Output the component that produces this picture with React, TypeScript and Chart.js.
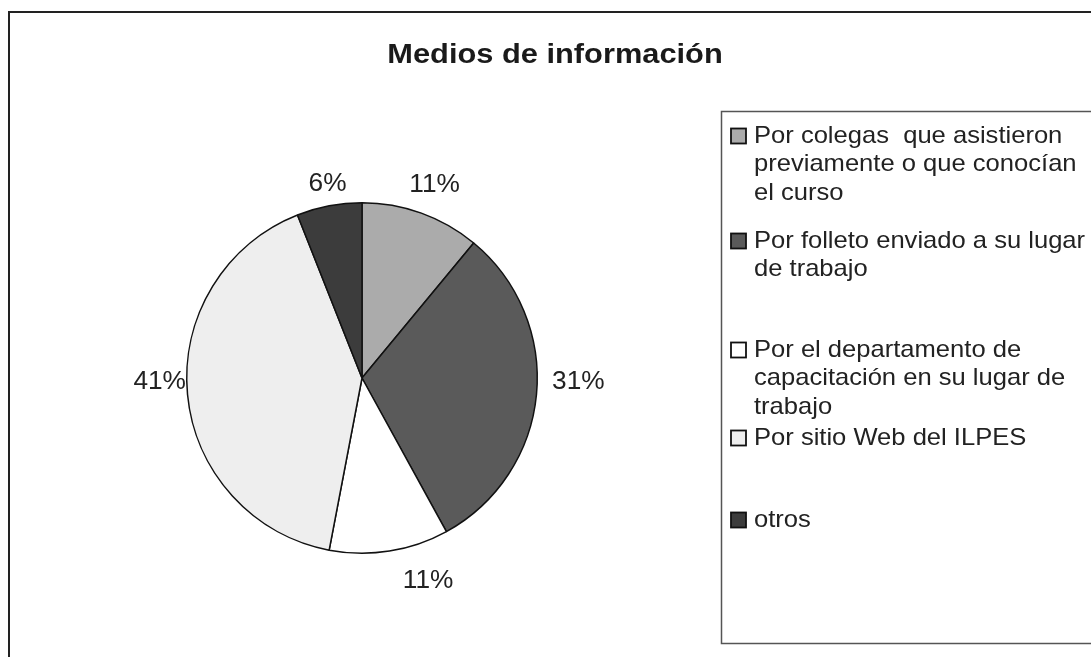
import React, { useEffect, useRef } from "react";
import { Chart, registerables } from "chart.js";

Chart.register(...registerables);

const chartTitle = "Medios de información";
const categories: string[][] = [
  ["Por colegas  que asistieron", "previamente o que conocían", "el curso"],
  ["Por folleto enviado a su lugar", "de trabajo"],
  ["Por el departamento de", "capacitación en su lugar de", "trabajo"],
  ["Por sitio Web del ILPES"],
  ["otros"],
];
const shares: number[] = [11, 31, 11, 41, 6];
const sliceColors: string[] = ["#ababab", "#5a5a5a", "#ffffff", "#eeeeee", "#3c3c3c"];

// layout / style settings (not data)
const W = 1091;
const H = 657;
const labelGap = 30;
const labelNudges: [number, number][] = [
  [3, 0],
  [12, -15],
  [34, 0],
  [2, -15],
  [4, 8],
];
const legendFirstLineY: number[] = [136, 241, 350, 438, 520];
const legendLineHeight = 28.5;

function drawText(
  ctx: CanvasRenderingContext2D,
  text: string,
  x: number,
  y: number,
  font: string,
  sx: number,
  align: CanvasTextAlign,
  color: string
) {
  ctx.save();
  ctx.font = font;
  ctx.fillStyle = color;
  ctx.textAlign = align;
  ctx.textBaseline = "middle";
  ctx.translate(x, y);
  ctx.scale(sx, 1);
  ctx.fillText(text, 0, 0);
  ctx.restore();
}

const decorPlugin = {
  id: "decor",
  beforeDraw(chart: any) {
    const ctx: CanvasRenderingContext2D = chart.ctx;
    ctx.save();
    ctx.fillStyle = "#ffffff";
    ctx.fillRect(0, 0, chart.width, chart.height);
    // outer frame
    ctx.strokeStyle = "#222222";
    ctx.lineWidth = 2;
    ctx.strokeRect(9, 12, 1200, 800);
    // legend frame
    ctx.strokeStyle = "#555555";
    ctx.lineWidth = 1.5;
    ctx.strokeRect(721.5, 111.5, 420, 532);
    ctx.restore();
    // title
    drawText(ctx, chartTitle, 555, 55, "bold 28px 'Liberation Sans', Arial, sans-serif", 1.1, "center", "#1a1a1a");
  },
  afterDatasetsDraw(chart: any) {
    const ctx: CanvasRenderingContext2D = chart.ctx;
    const meta = chart.getDatasetMeta(0);
    const data: number[] = chart.data.datasets[0].data;
    const total = data.reduce((a, b) => a + b, 0);
    meta.data.forEach((arc: any, i: number) => {
      const p = arc.getProps(["x", "y", "startAngle", "endAngle", "outerRadius"], true);
      const mid = (p.startAngle + p.endAngle) / 2;
      const d = p.outerRadius + labelGap;
      const x = p.x + Math.cos(mid) * d + labelNudges[i][0];
      const y = p.y + Math.sin(mid) * d + labelNudges[i][1];
      const pct = Math.round((data[i] / total) * 100) + "%";
      drawText(ctx, pct, x, y, "25px 'Liberation Sans', Arial, sans-serif", 1.05, "center", "#222222");
    });
    // legend
    categories.forEach((lines, i) => {
      const y0 = legendFirstLineY[i];
      ctx.save();
      ctx.fillStyle = sliceColors[i];
      ctx.fillRect(731, y0 - 7.5, 15, 15);
      ctx.strokeStyle = "#111111";
      ctx.lineWidth = 1.8;
      ctx.strokeRect(731, y0 - 7.5, 15, 15);
      ctx.restore();
      lines.forEach((ln, j) => {
        drawText(ctx, ln, 754, y0 + j * legendLineHeight, "24px 'Liberation Sans', Arial, sans-serif", 1.065, "left", "#222222");
      });
    });
  },
};

export default function App() {
  const ref = useRef<HTMLCanvasElement | null>(null);
  useEffect(() => {
    document.body.style.overflow = "hidden";
    const canvas = ref.current;
    if (!canvas) return;
    const chart = new Chart(canvas, {
      type: "pie",
      data: {
        labels: categories.map((l) => l.join(" ")),
        datasets: [
          {
            data: shares,
            backgroundColor: sliceColors,
            borderColor: "#111111",
            borderWidth: 1.5,
          },
        ],
      },
      options: {
        responsive: false,
        maintainAspectRatio: false,
        animation: false,
        layout: { padding: { left: 186, right: W - 538, top: 202, bottom: H - 554 } },
        plugins: {
          legend: { display: false },
          title: { display: false },
          tooltip: { enabled: false },
        },
      },
      plugins: [decorPlugin],
    });
    return () => chart.destroy();
  }, []);
  return (
    <div style={{ position: "absolute", left: 0, top: 0, width: W, height: H }}>
      <canvas ref={ref} width={W} height={H} style={{ display: "block", width: W, height: H }} />
    </div>
  );
}
